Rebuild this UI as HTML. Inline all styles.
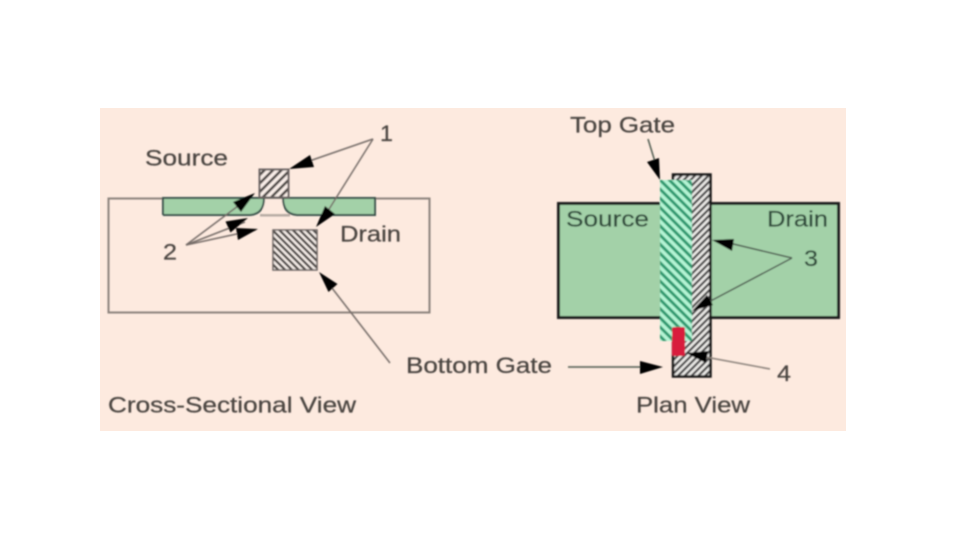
<!DOCTYPE html>
<html><head><meta charset="utf-8"><style>
html,body{margin:0;padding:0;background:#fff;width:960px;height:540px;overflow:hidden}
svg{display:block}
text{font-family:"Liberation Sans",sans-serif;font-size:22px;fill:#4a4441;stroke:#4a4441;stroke-width:.25px}
</style></head><body>
<svg width="960" height="540" viewBox="0 0 960 540" xmlns="http://www.w3.org/2000/svg">
<defs>
<filter id="b" x="-5%" y="-5%" width="110%" height="110%"><feGaussianBlur stdDeviation="0.7"/></filter>
<pattern id="h1" width="6" height="6" patternUnits="userSpaceOnUse" patternTransform="rotate(45)"><rect width="6" height="6" fill="#f9eee8"/><rect width="2.600" height="6" fill="#4a4442"/></pattern>
<pattern id="h2" width="4.800" height="4.800" patternUnits="userSpaceOnUse" patternTransform="rotate(-45)"><rect width="4.800" height="4.800" fill="#f5ede8"/><rect width="2.400" height="4.800" fill="#4a4442"/></pattern>
<pattern id="h3" width="4.800" height="4.800" patternUnits="userSpaceOnUse" patternTransform="rotate(45)"><rect width="4.800" height="4.800" fill="#ecebe8"/><rect width="2.300" height="4.800" fill="#4a4848"/></pattern>
<pattern id="h4" width="6.500" height="6.500" patternUnits="userSpaceOnUse" patternTransform="rotate(-45)"><rect width="6.500" height="6.500" fill="#b4f4d4"/><rect width="3" height="6.500" fill="#2f9a70"/></pattern>
</defs>
<rect x="100" y="108" width="746" height="323" fill="#fdeadf"/>
<g filter="url(#b)">
<!-- Cross-section -->
<rect x="108.500" y="198.500" width="321" height="114" fill="none" stroke="#8b827c" stroke-width="2"/>
<rect x="263" y="198" width="20" height="17" fill="#fdeadf"/>
<path d="M163 198H375V215H297Q283 214 283 198H264Q264 214 250 215H163Z" fill="#a3d1a8"/>
<path d="M163 215V198H375V215H297Q283 214 283 198M264 198Q264 214 250 215H163" fill="none" stroke="#35504a" stroke-width="2"/>
<rect x="260" y="214" width="30" height="2.500" fill="#b5aaa3"/>
<rect x="259.500" y="169.500" width="29" height="28" fill="url(#h1)" stroke="#6a6462" stroke-width="2"/>
<rect x="273" y="230" width="44" height="40" fill="url(#h2)" stroke="#6a6462" stroke-width="1.500"/>
<g stroke="#746c68" stroke-width="1.500" fill="none">
<line x1="373" y1="139" x2="295" y2="166"/>
<line x1="373" y1="139" x2="321" y2="222"/>
<line x1="186" y1="245" x2="250" y2="197"/>
<line x1="186" y1="245" x2="245" y2="222"/>
<line x1="186" y1="245" x2="255" y2="230"/>
<line x1="390" y1="363" x2="325" y2="279"/>
</g>
<g fill="#000">
<polygon points="289,169 314,167 310,155"/>
<polygon points="316,227 335,214 325,206"/>
<polygon points="255,193 241,212 233,202"/>
<polygon points="248,218 230.500,232.500 225.500,221.500"/>
<polygon points="258,229 238,240 236,228"/>
<polygon points="319,272 337.500,284 328.500,292"/>
</g>
<!-- Plan view -->
<rect x="558.500" y="203.500" width="280" height="114" fill="#a3d1a8" stroke="#1c1f1c" stroke-width="3"/>
<rect x="673" y="174.500" width="37.500" height="202" fill="url(#h3)" stroke="#181818" stroke-width="2.500"/>
<rect x="660" y="180" width="32" height="161" fill="url(#h4)"/>
<rect x="672" y="327" width="13" height="29" rx="2" fill="#d81f3e"/>
<g stroke="#4d5a50" stroke-width="1.500" fill="none">
<line x1="648" y1="139" x2="656" y2="165"/>
<line x1="792" y1="258" x2="725" y2="242"/>
<line x1="792" y1="258" x2="703" y2="305"/>
<line x1="568" y1="367" x2="645" y2="367"/>
<line x1="770" y1="369" x2="700" y2="356" stroke="#8a817a"/>
</g>
<g fill="#000">
<polygon points="660,180 659,158 647,162"/>
<polygon points="712,240 734,239 732,251"/>
<polygon points="692,311 707,295 713,305"/>
<polygon points="663,367 640,361 640,374"/>
<polygon points="686,353 708,351 706,363"/>
</g>
<!-- Labels -->
<text x="145" y="165.500" textLength="83" lengthAdjust="spacingAndGlyphs">Source</text>
<text x="380" y="141" textLength="13" lengthAdjust="spacingAndGlyphs">1</text>
<text x="163" y="259.500" textLength="14" lengthAdjust="spacingAndGlyphs">2</text>
<text x="340" y="241.500" textLength="61" lengthAdjust="spacingAndGlyphs">Drain</text>
<text x="406" y="373" textLength="146" lengthAdjust="spacingAndGlyphs">Bottom Gate</text>
<text x="108" y="412.500" textLength="248" lengthAdjust="spacingAndGlyphs">Cross-Sectional View</text>
<text x="570" y="132.500" textLength="105" lengthAdjust="spacingAndGlyphs">Top Gate</text>
<text x="566" y="226.500" textLength="83" lengthAdjust="spacingAndGlyphs" style="fill:#2f4a3a;stroke:#2f4a3a">Source</text>
<text x="767" y="226.500" textLength="61" lengthAdjust="spacingAndGlyphs" style="fill:#2f4a3a;stroke:#2f4a3a">Drain</text>
<text x="804" y="266" textLength="14" lengthAdjust="spacingAndGlyphs" style="fill:#2f4a3a;stroke:#2f4a3a">3</text>
<text x="777" y="381" textLength="14" lengthAdjust="spacingAndGlyphs">4</text>
<text x="636" y="412.500" textLength="114" lengthAdjust="spacingAndGlyphs">Plan View</text>
</g>
</svg>
</body></html>
